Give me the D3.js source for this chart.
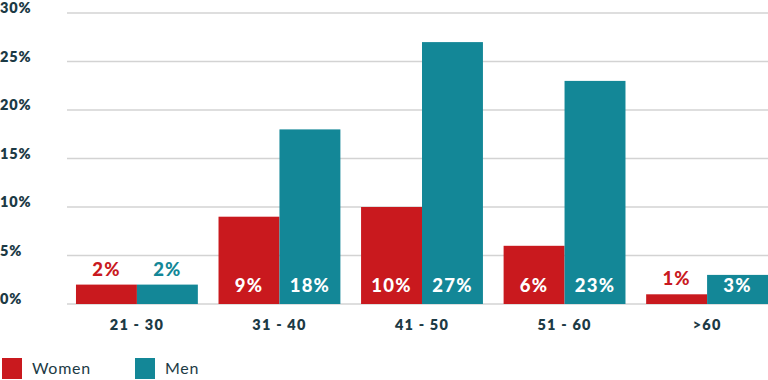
<!DOCTYPE html>
<html><head><meta charset="utf-8">
<script src="https://cdn.jsdelivr.net/npm/d3@7"></script>
<style>body{margin:0;background:#fff;}svg{display:block;font-family:"Lato","Open Sans",sans-serif;}</style>
</head><body><svg id="c" width="768" height="380"></svg>
<script>
const categories = ["21 - 30","31 - 40","41 - 50","51 - 60",">60"];
const women = [2,9,10,6,1];
const men = [2,18,27,23,3];
const yTicks = [0,5,10,15,20,25,30];
const seriesNames = ["Women","Men"];
const colors = ["#c9191e","#138797"];
const textColor = "#1c3a45";

const svg = d3.select("#c");
const y = d3.scaleLinear().domain([0,30]).range([304,13]);
const x0 = d3.scaleBand().domain(categories).range([66,778]).paddingInner(0.145).paddingOuter(0.07);
const x1 = d3.scaleBand().domain(seriesNames).range([0,x0.bandwidth()]);

svg.append("g").selectAll("line").data(yTicks).join("line")
  .attr("x1",67).attr("x2",768).attr("y1",d=>y(d)).attr("y2",d=>y(d))
  .attr("stroke","#d3d3d3").attr("stroke-width",1.5);
svg.append("g").selectAll("text").data(yTicks).join("text")
  .attr("x",0).attr("y",d=>y(d)-5).attr("dy","0.35em")
  .attr("fill",textColor).attr("font-size",14.5).attr("font-weight",800)
  .attr("letter-spacing","0.9px")
  .text(d=>d+"%");

const data = categories.map((c,i)=>({c, vals:[women[i],men[i]]}));
const g = svg.append("g").selectAll("g").data(data).join("g")
  .attr("transform",d=>`translate(${x0(d.c)},0)`);
g.selectAll("rect").data(d=>d.vals.map((v,j)=>({v,s:seriesNames[j],j}))).join("rect")
  .attr("x",d=>x1(d.s)).attr("width",x1.bandwidth())
  .attr("y",d=>y(d.v)).attr("height",d=>y(0)-y(d.v))
  .attr("fill",d=>colors[d.j]);
g.selectAll("text").data(d=>d.vals.map((v,j)=>({v,s:seriesNames[j],j}))).join("text")
  .attr("x",d=>x1(d.s)+x1.bandwidth()/2)
  .attr("y",d=> (y(0)-y(d.v))>25 ? 292 : y(d.v)-9)
  .attr("text-anchor","middle")
  .attr("font-size",18.5).attr("font-weight",900)
  .attr("letter-spacing","1.2px")
  .attr("fill",d=> (y(0)-y(d.v))>25 ? "#fff" : colors[d.j])
  .text(d=>d.v+"%");

svg.append("g").selectAll("text").data(categories).join("text")
  .attr("x",d=>x0(d)+x0.bandwidth()/2).attr("y",330)
  .attr("text-anchor","middle").attr("fill",textColor)
  .attr("font-size",14.5).attr("font-weight",800).attr("letter-spacing","1.2px")
  .text(d=>d);

const lx = [2,135];
const lg = svg.append("g").selectAll("g").data(seriesNames).join("g")
  .attr("transform",(d,i)=>`translate(${lx[i]},358)`);
lg.append("rect").attr("width",20).attr("height",21).attr("fill",(d,i)=>colors[i]);
lg.append("text").attr("x",30).attr("y",16).attr("fill",textColor)
  .attr("font-size",16).attr("letter-spacing","0.7px").text(d=>d);
</script></body></html>
